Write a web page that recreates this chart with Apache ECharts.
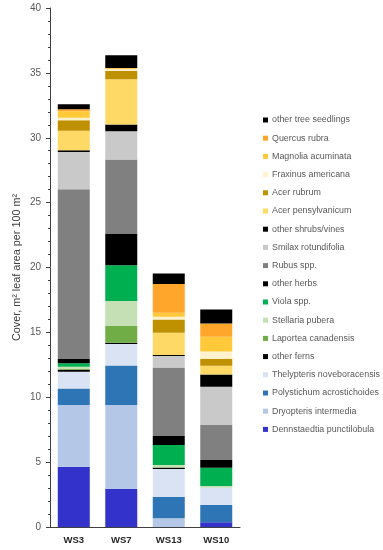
<!DOCTYPE html>
<html>
<head>
<meta charset="utf-8">
<script src="https://cdn.jsdelivr.net/npm/echarts@6/dist/echarts.min.js"></script>
<style>html,body{margin:0;padding:0;background:#fff;}#c{width:383px;height:550px;}</style>
</head>
<body>
<div id="c"></div>
<script>
const categories = ['WS3', 'WS7', 'WS13', 'WS10'];
const yTicks = [0, 5, 10, 15, 20, 25, 30, 35, 40];

// bottom to top stacking order
const seriesNames = [
  'Dennstaedtia punctilobula',
  'Dryopteris intermedia',
  'Polystichum acrostichoides',
  'Thelypteris noveboracensis',
  'other ferns',
  'Laportea canadensis',
  'Stellaria pubera',
  'Viola spp.',
  'other herbs',
  'Rubus spp.',
  'Smilax rotundifolia',
  'other shrubs/vines',
  'Acer pensylvanicum',
  'Acer rubrum',
  'Fraxinus americana',
  'Magnolia acuminata',
  'Quercus rubra',
  'other tree seedlings'
];
const seriesColors = [
  '#3333CC', '#B4C7E7', '#2E75B6', '#DAE3F3', '#000000',
  '#70AD47', '#C5E0B4', '#00B050', '#000000', '#808080',
  '#C9C9C9', '#000000', '#FFD966', '#BF9000', '#FFF2CC',
  '#FFC93A', '#FFA62B', '#000000'
];

// values per category [WS3, WS7, WS13, WS10]
const dennstaedtia = [4.65, 2.93, 0.00, 0.36];
const dryopteris   = [4.75, 6.47, 0.67, 0.00];
const polystichum  = [1.28, 3.05, 1.67, 1.33];
const thelypteris  = [1.29, 1.65, 2.13, 1.34];
const otherFerns   = [0.15, 0.10, 0.10, 0.00];
const laportea     = [0.05, 1.29, 0.03, 0.00];
const stellaria    = [0.18, 1.92, 0.18, 0.13];
const viola        = [0.27, 2.77, 1.54, 1.41];
const otherHerbs   = [0.32, 2.45, 0.69, 0.59];
const rubus        = [13.10, 5.70, 5.29, 2.70];
const smilax       = [2.87, 2.18, 0.87, 2.95];
const otherShrubs  = [0.13, 0.51, 0.08, 0.95];
const acerPens     = [1.49, 3.49, 1.72, 0.67];
const acerRubrum   = [0.82, 0.64, 1.03, 0.54];
const fraxinus     = [0.20, 0.13, 0.20, 0.56];
const magnolia     = [0.50, 0.05, 0.31, 1.13];
const quercus      = [0.15, 0.05, 2.21, 1.03];
const otherTrees   = [0.39, 0.98, 0.82, 1.08];

const seriesValues = [
  dennstaedtia, dryopteris, polystichum, thelypteris, otherFerns,
  laportea, stellaria, viola, otherHerbs, rubus, smilax, otherShrubs,
  acerPens, acerRubrum, fraxinus, magnolia, quercus, otherTrees
];

const FONT = '"Liberation Sans", Arial, sans-serif';
const chart = echarts.init(document.getElementById('c'), null, {renderer: 'canvas'});
chart.setOption({
  animation: false,
  backgroundColor: '#ffffff',
  grid: {left: 40, top: 8, right: 143, bottom: 23, containLabel: false},
  legend: {
    orient: 'vertical',
    left: 263,
    top: 111,
    data: seriesNames.slice().reverse(),
    icon: 'rect',
    itemWidth: 5,
    itemHeight: 5,
    itemGap: 0.2,
    selectedMode: false,
    textStyle: {fontFamily: FONT, fontSize: 8.9, color: '#595959', lineHeight: 18, padding: [0, 0, 0, -1]},
    padding: 0
  },
  xAxis: {
    type: 'category',
    data: categories,
    axisLine: {lineStyle: {color: '#404040', width: 1}},
    axisTick: {show: false},
    axisLabel: {fontFamily: FONT, fontSize: 9.5, fontWeight: 'bold', color: '#262626', margin: 8}
  },
  yAxis: {
    type: 'value',
    min: yTicks[0],
    max: yTicks[yTicks.length - 1],
    interval: 5,
    name: 'Cover, m\u00B2 leaf area per 100 m\u00B2',
    nameLocation: 'middle',
    nameGap: 27,
    nameTextStyle: {fontFamily: FONT, fontSize: 10.8, color: '#404040'},
    axisLine: {show: true, lineStyle: {color: '#404040', width: 1}},
    axisTick: {show: true, inside: false, length: 4, lineStyle: {color: '#404040'}},
    minorTick: {show: true, splitNumber: 5, length: 2, lineStyle: {color: '#404040'}},
    splitLine: {show: false},
    axisLabel: {fontFamily: FONT, fontSize: 10, color: '#595959', margin: 9}
  },
  series: seriesNames.map((name, i) => ({
    name: name,
    type: 'bar',
    stack: 'total',
    barWidth: 32,
    itemStyle: {color: seriesColors[i]},
    data: seriesValues[i]
  }))
});
</script>
</body>
</html>
